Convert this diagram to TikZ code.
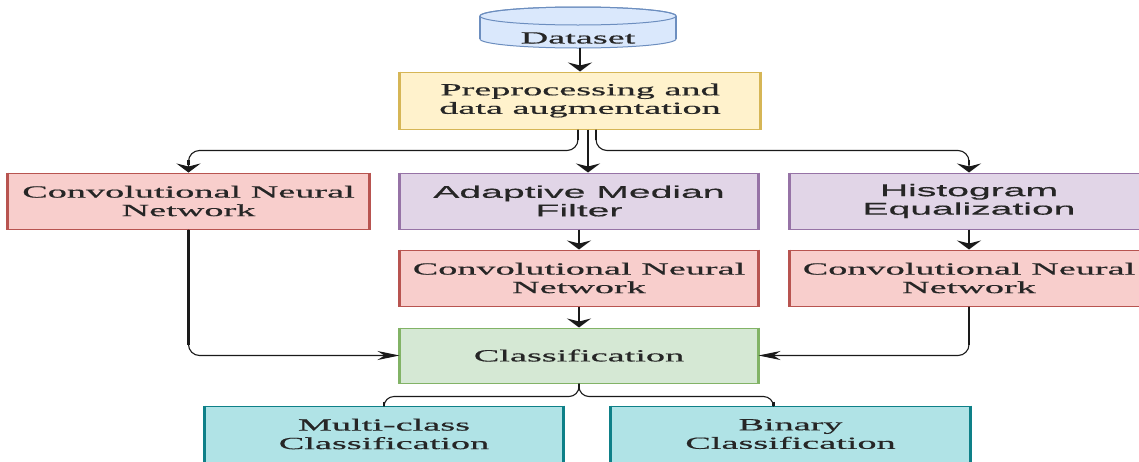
\documentclass[tikz,border=0pt]{standalone}
\usepackage{fontspec}
\newfontfamily\wserif[FakeStretch=2.25,FakeBold=0.6]{Liberation Serif}
\newfontfamily\wsans[FakeStretch=2.3,FakeBold=0.5]{Liberation Sans}
\usetikzlibrary{arrows.meta,calc}
\definecolor{dsF}{HTML}{DAE8FC}\definecolor{dsD}{HTML}{6C8EBF}
\definecolor{ylF}{HTML}{FFF2CC}\definecolor{ylD}{HTML}{D6B656}
\definecolor{pkF}{HTML}{F8CECC}\definecolor{pkD}{HTML}{B85450}
\definecolor{puF}{HTML}{E1D5E7}\definecolor{puD}{HTML}{9673A6}
\definecolor{grF}{HTML}{D5E8D4}\definecolor{grD}{HTML}{82B366}
\definecolor{tlF}{HTML}{B0E3E6}\definecolor{tlD}{HTML}{0E8088}
\definecolor{txt}{HTML}{262626}
\definecolor{lnc}{HTML}{1A1A1A}
\tikzset{
  box/.style={rectangle, minimum width=358pt, minimum height=56pt, inner sep=0pt,
    align=center, line width=1pt, text=txt,
    font=\wserif\fontsize{17}{18.5}\selectfont},
  sansbox/.style={box, font=\wsans\fontsize{17}{18.5}\selectfont},
  pinkbox/.style={box, fill=pkF, draw=pkD},
  purplebox/.style={sansbox, fill=puF, draw=puD},
  yellowbox/.style={box, fill=ylF, draw=ylD},
  greenbox/.style={box, fill=grF, draw=grD},
  tealbox/.style={box, fill=tlF, draw=tlD},
  thickv/.style={line width=2.6pt, draw=lnc},
  thinh/.style={line width=1.1pt, draw=lnc, rounded corners=11pt},
  vtip/.style={-{Stealth[length=9pt,width=24pt,inset=3pt]}},
  htip/.style={-{Stealth[length=22pt,width=9pt,inset=7pt]}},
}
\begin{document}
\begin{tikzpicture}[x=1pt,y=-1pt]
\useasboundingbox (0,0) rectangle (1139,461);
\clip (0,0) rectangle (1139,461);
\fill[white] (0,0) rectangle (1139,461);

% Dataset cylinder
\filldraw[fill=dsF, draw=dsD, line width=1pt]
  (480,16) -- (480,39) arc[start angle=180,end angle=0,x radius=98,y radius=9]
  -- (676,16) arc[start angle=0,end angle=-180,x radius=98,y radius=9] -- cycle;
\draw[dsD, line width=1pt] (578,16) ellipse[x radius=98, y radius=9];
\draw[dsD, line width=2.4pt] (480,16) -- (480,39) (676,16) -- (676,39);
\node[font=\wserif\fontsize{17}{18.5}\selectfont, text=txt, inner sep=0pt] (ds) at (578,38) {Dataset};
\coordinate (dsb) at (580,48);

% boxes
\node[yellowbox, minimum width=360pt, minimum height=57pt] (pre) at (580,100.5) {Preprocessing and\\data augmentation};
\node[pinkbox, minimum width=361pt] (cnnA) at (188.5,201) {Convolutional Neural\\Network};
\node[purplebox] (amf) at (579,201) {Adaptive Median\\Filter};
\node[purplebox] (he) at (969,201) {Histogram\\Equalization};
\node[pinkbox] (cnnB) at (579,278) {Convolutional Neural\\Network};
\node[pinkbox] (cnnC) at (969,278) {Convolutional Neural\\Network};
\node[greenbox, minimum height=55pt] (cls) at (579,355.5) {Classification};
\node[tealbox] (multi) at (384,434) {Multi-class\\Classification};
\node[tealbox, minimum width=359pt] (bin) at (790.5,434) {Binary\\Classification};

% thicker vertical sides (horizontally stretched look)
\foreach \n/\c in {pre/ylD,cnnA/pkD,amf/puD,he/puD,cnnB/pkD,cnnC/pkD,cls/grD,multi/tlD,bin/tlD}{
  \draw[\c, line width=2.4pt] (\n.north west) -- (\n.south west) (\n.north east) -- (\n.south east);
}

% Dataset -> Preprocessing
\draw[thickv, vtip] (dsb) -- (dsb |- pre.north);

% Preprocessing -> three branches
\draw[thinh, vtip] ([xshift=-2pt]pre.south) -- ++(0,21) -| (cnnA.north);
\draw[thinh, vtip] ([xshift=16pt]pre.south) -- ++(0,21) -| (he.north);
\draw[thickv] ([xshift=-2pt]pre.south) -- ++(0,10);
\draw[thickv] ([xshift=16pt]pre.south) -- ++(0,10);
\draw[thickv] ([yshift=13pt]cnnA.north) -- ([yshift=8pt]cnnA.north);
\draw[thickv] ([yshift=13pt]he.north) -- ([yshift=8pt]he.north);
\draw[thickv, vtip] ([xshift=8pt]pre.south) -- ([xshift=8pt]pre.south |- amf.north);

% vertical chains
\draw[thickv, vtip] (amf.south) -- (cnnB.north);
\draw[thickv, vtip] (cnnB.south) -- (cls.north);
\draw[thickv, vtip] (he.south) -- (cnnC.north);

% side branches into Classification
\draw[thinh, htip] (cnnA.south) |- (cls.west);
\draw[thickv] (cnnA.south) -- ([yshift=11pt]cnnA.south |- cls.west);
\draw[thinh, htip] (cnnC.south) |- (cls.east);
\draw[thickv] (cnnC.south) -- ([yshift=11pt]cnnC.south |- cls.east);

% Classification -> outputs
\draw[thinh, rounded corners=10pt] (cls.south) -- ++(0,13) -| (multi.north);
\draw[thinh, rounded corners=10pt] (cls.south) -- ++(0,13) -| ([xshift=-17pt]bin.north);
\draw[thickv] (cls.south) -- ++(0,6);
\draw[thickv] ([yshift=4pt]multi.north) -- (multi.north);
\draw[thickv] ([yshift=4pt,xshift=-17pt]bin.north) -- ([xshift=-17pt]bin.north);
\end{tikzpicture}
\end{document}
